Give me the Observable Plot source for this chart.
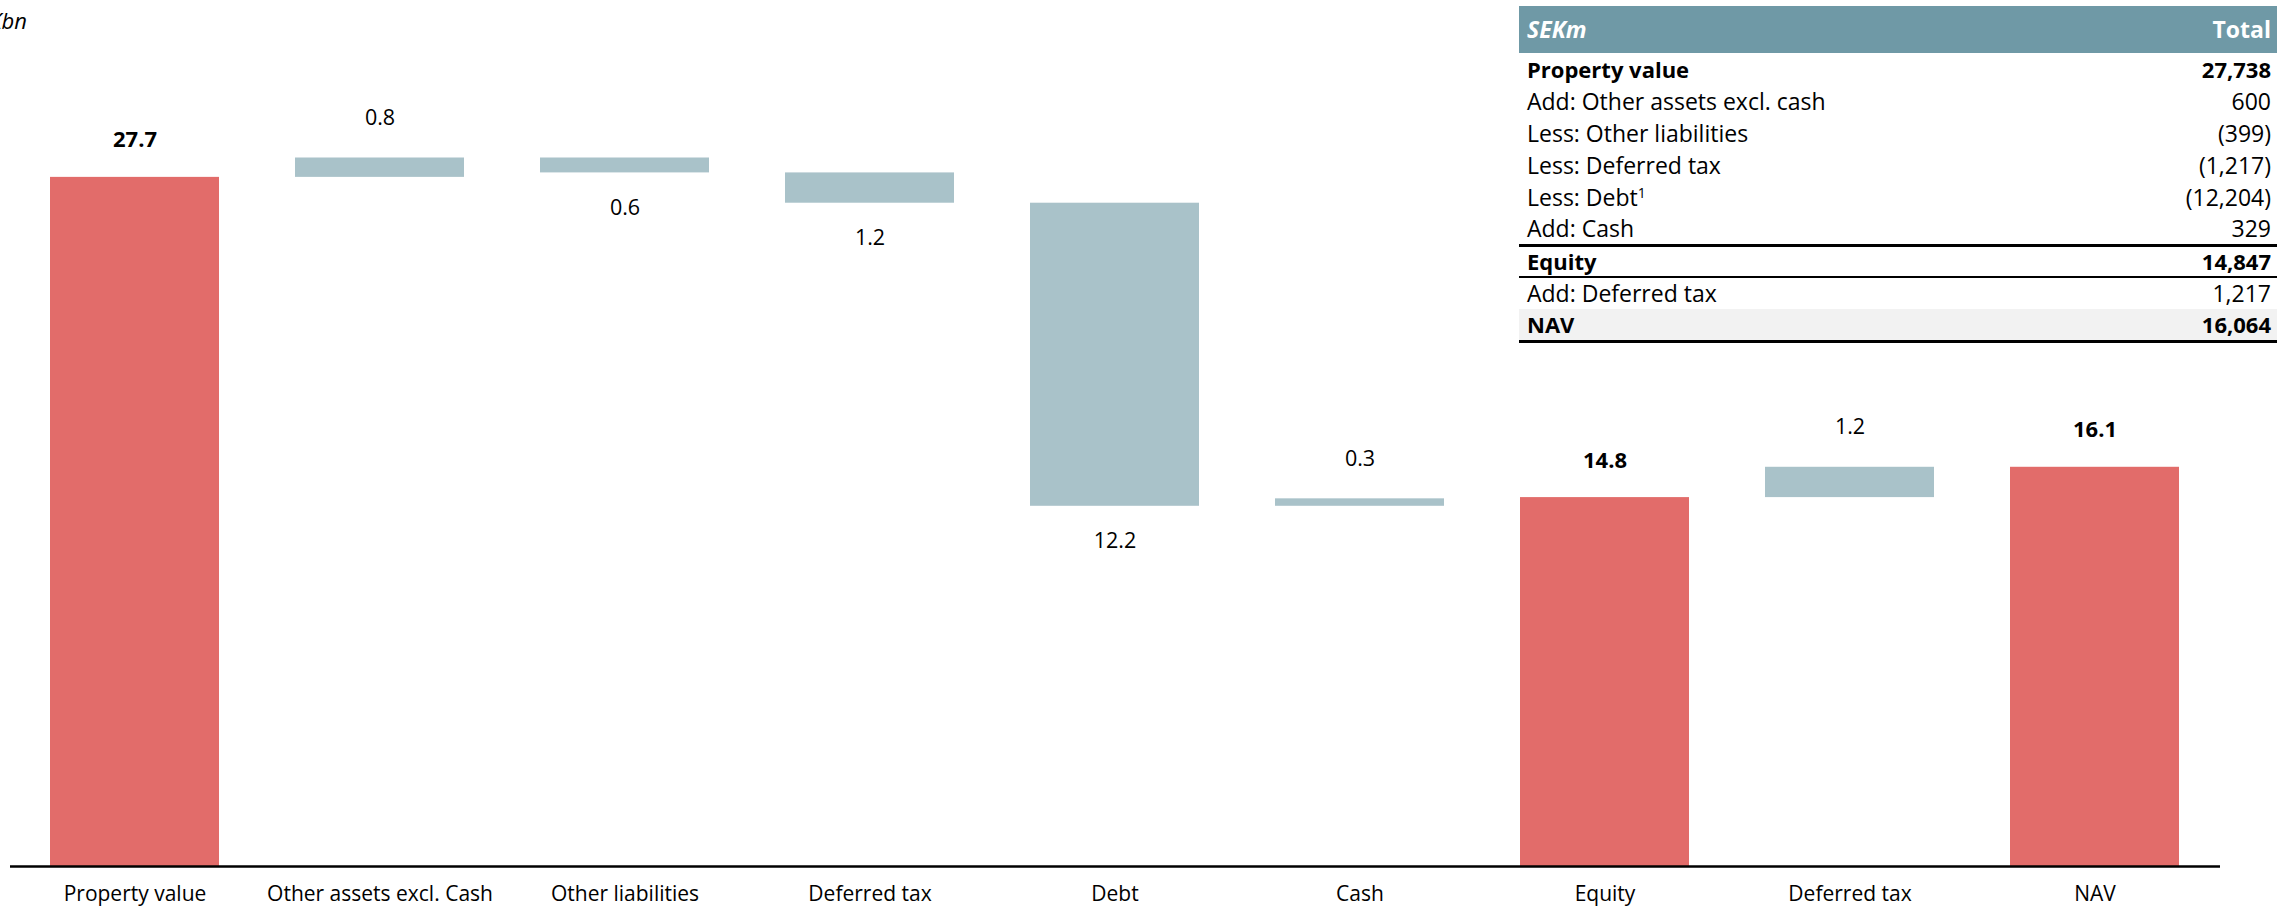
<!DOCTYPE html>
<html>
<head>
<meta charset="utf-8">
<script src="https://cdn.jsdelivr.net/npm/d3@7"></script>
<script src="https://cdn.jsdelivr.net/npm/@observablehq/plot@0.6"></script>
<style>
  html, body { margin: 0; padding: 0; background: #fff; overflow: hidden; }
  body { font-family: "Open Sans", Lato, sans-serif; color: #000; }
  #wrap { position: relative; width: 2277px; height: 909px; overflow: hidden; }
  #unit { position: absolute; left: -173px; width: 200px; top: 5px; text-align: right;
          font-style: italic; font-size: 22px; line-height: 30px; white-space: nowrap; }
  #tbl { position: absolute; left: 1519px; top: 6px; width: 758px; border-collapse: collapse;
         font-size: 23px; line-height: 1; }
  #tbl td { padding: 0 6px 0 8px; height: 32px; box-sizing: border-box; white-space: nowrap; }
  #tbl tr.head td { background: #6f99a6; color: #fff; font-weight: bold; height: 47px; font-size: 23px; }
  #tbl tr.head td:first-child { font-style: italic; }
  #tbl td.num { text-align: right; }
  #tbl tr.bold td { font-weight: bold; font-size: 22px; }
  #tbl tr.thick td { border-bottom: 3px solid #000; }
  #tbl tr.thin td { border-bottom: 2px solid #000; }
  #tbl tr.shade td { background: #f2f2f2; border-bottom: 3px solid #000; }
  #tbl sup { font-size: 14px; vertical-align: 8px; line-height: 0; }
</style>
</head>
<body>
<div id="wrap">
  <div id="chart"></div>
  <div id="unit">SEKbn</div>
  <table id="tbl"></table>
</div>
<script>
// ---- Chart data ----
const categories = ["Property value", "Other assets excl. Cash", "Other liabilities", "Deferred tax", "Debt", "Cash", "Equity", "Deferred tax", "NAV"];
const values = [27.74, 0.78, -0.6, -1.22, -12.2, 0.3, 14.85, 1.22, 16.07];
const kinds = ["total", "delta", "delta", "delta", "delta", "delta", "total", "delta", "total"];
const valueLabels = ["27.7", "0.8", "0.6", "1.2", "12.2", "0.3", "14.8", "1.2", "16.1"];

// ---- Table data ----
const tableHeader = ["SEKm", "Total"];
const tableLabels = ["Property value", "Add: Other assets excl. cash", "Less: Other liabilities", "Less: Deferred tax", "Less: Debt", "Add: Cash", "Equity", "Add: Deferred tax", "NAV"];
const tableValues = ["27,738", "600", "(399)", "(1,217)", "(12,204)", "329", "14,847", "1,217", "16,064"];
const tableSup = ["", "", "", "", "1", "", "", "", ""];
const tableRowClass = ["bold", "", "", "", "", "thick", "bold thin", "", "bold shade"];

const red = "#e26c6a";
const blue = "#a9c2c9";

// waterfall table built from the arrays
let running = 0;
const rows = categories.map((c, i) => {
  let y1, y2;
  if (kinds[i] === "total") { y1 = 0; y2 = values[i]; running = values[i]; }
  else { y1 = running; y2 = running + values[i]; running = y2; }
  return { i, cat: c, kind: kinds[i], y1, y2, top: Math.max(y1, y2), bottom: Math.min(y1, y2), label: valueLabels[i], neg: values[i] < 0 };
});

const chart = Plot.plot({
  width: 2277,
  height: 909,
  marginLeft: 10,
  marginRight: 57,
  marginTop: 0,
  marginBottom: 43,
  style: { fontFamily: "'Open Sans', Lato, sans-serif", fontSize: "21px", color: "#000", background: "transparent", overflow: "visible" },
  x: {
    type: "band",
    domain: d3.range(categories.length),
    paddingInner: 0.31,
    paddingOuter: 0.155,
    tickFormat: i => categories[i],
    tickSize: 0,
    tickPadding: 20,
    label: null
  },
  y: { domain: [0, 34.86], axis: null },
  marks: [
    Plot.barY(rows, { x: "i", y1: "y1", y2: "y2", fill: d => d.kind === "total" ? red : blue }),
    Plot.ruleY([0], { stroke: "#000", strokeWidth: 2.5 }),
    Plot.text(rows.filter(d => d.kind === "total"), { x: "i", y: "top", text: "label", dy: -37, fontWeight: "bold", fontSize: 22, fill: "#000" }),
    Plot.text(rows.filter(d => d.kind !== "total" && !d.neg), { x: "i", y: "top", text: "label", dy: -40, fontSize: 21.5, fill: "#000" }),
    Plot.text(rows.filter(d => d.kind !== "total" && d.neg), { x: "i", y: "bottom", text: "label", dy: 35, fontSize: 21.5, fill: "#000" })
  ]
});
document.getElementById("chart").appendChild(chart);

// ---- Table ----
const tbl = document.getElementById("tbl");
const head = document.createElement("tr");
head.className = "head";
head.innerHTML = `<td>${tableHeader[0]}</td><td class="num">${tableHeader[1]}</td>`;
tbl.appendChild(head);
tableLabels.forEach((lab, i) => {
  const tr = document.createElement("tr");
  tr.className = tableRowClass[i];
  const sup = tableSup[i] ? `<sup>${tableSup[i]}</sup>` : "";
  tr.innerHTML = `<td>${lab}${sup}</td><td class="num">${tableValues[i]}</td>`;
  tbl.appendChild(tr);
});
</script>
</body>
</html>
